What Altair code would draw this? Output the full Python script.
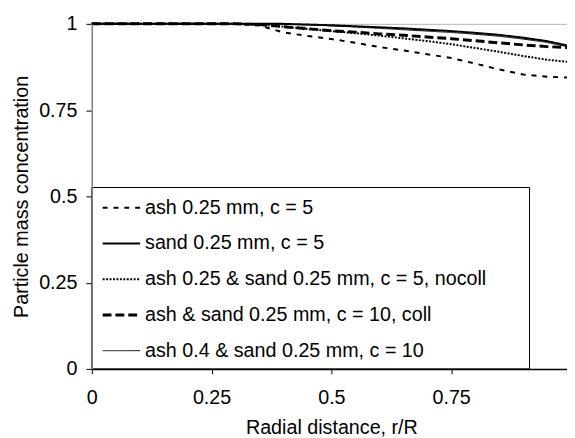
import altair as alt
import pandas as pd

# Radial positions r/R
r = [0, 0.1, 0.2, 0.3, 0.35, 0.4, 0.45, 0.5, 0.55, 0.6, 0.65, 0.7, 0.75, 0.8, 0.85, 0.9, 0.95, 1.0]

ash_c5 = [1, 1, 1, 1, 0.995, 0.975, 0.965, 0.956, 0.945, 0.933, 0.923, 0.912, 0.901, 0.885, 0.868, 0.853, 0.847, 0.844]
sand_c5 = [1, 1, 1, 1, 1, 1, 0.998, 0.996, 0.993, 0.990, 0.987, 0.983, 0.979, 0.974, 0.968, 0.960, 0.950, 0.935]
nocoll_c5 = [1, 1, 1, 1, 0.998, 0.992, 0.985, 0.979, 0.973, 0.966, 0.958, 0.950, 0.941, 0.930, 0.919, 0.907, 0.896, 0.889]
coll_c10 = [1, 1, 1, 1, 0.998, 0.992, 0.986, 0.980, 0.976, 0.971, 0.967, 0.962, 0.957, 0.951, 0.945, 0.939, 0.934, 0.931]
ash04_c10 = [1, 1, 1, 1, 1, 0.999, 0.997, 0.994, 0.991, 0.987, 0.983, 0.979, 0.975, 0.970, 0.964, 0.956, 0.946, 0.932]

names = [
    "ash 0.25 mm, c = 5",
    "sand 0.25 mm, c = 5",
    "ash 0.25 & sand 0.25 mm, c = 5, nocoll",
    "ash & sand 0.25 mm, c = 10, coll",
    "ash 0.4 & sand 0.25 mm, c = 10",
]
series = [ash_c5, sand_c5, nocoll_c5, coll_c10, ash04_c10]

dashes = [[5, 6], [1, 0], [2, 1.5], [9, 4], [1, 0]]
widths = [2, 2, 2, 3, 1]

rows = []
for n, s in zip(names, series):
    for x, y in zip(r, s):
        rows.append({"r": x, "v": y, "series": n})
df = pd.DataFrame(rows)
legend_df = pd.DataFrame({"series": names})

FONT = "Liberation Sans"
FS = 20

dash_enc = alt.StrokeDash("series:N", sort=names,
                          scale=alt.Scale(type="ordinal", domain=names, range=dashes), legend=None)
width_enc = alt.StrokeWidth("series:N", sort=names,
                            scale=alt.Scale(type="ordinal", domain=names, range=widths), legend=None)

box = alt.Chart(pd.DataFrame({"a": [0]})).mark_rect(
    fill="white", stroke="black", strokeWidth=1
).encode(
    x=alt.value(0), x2=alt.value(444), y=alt.value(166), y2=alt.value(350)
)

axis_common = dict(
    grid=False,
    labelFont=FONT, titleFont=FONT,
    labelFontSize=FS, titleFontSize=FS,
    labelColor="black", titleColor="black",
    titleFontWeight="normal",
    zindex=1,
)

lines = alt.Chart(df).mark_line(color="black").encode(
    x=alt.X(
        "r:Q",
        scale=alt.Scale(domain=[0, 1], range=[0, 486], nice=False),
        axis=alt.Axis(
            values=[0, 0.25, 0.5, 0.75, 1],
            format=".2~f",
            title="Radial distance, r/R",
            tickSize=5,
            labelPadding=14,
            titlePadding=11,
            domainColor="black",
            domainWidth=1.5,
            tickColor="black",
            labelFlush=False,
            **axis_common,
        ),
    ),
    y=alt.Y(
        "v:Q",
        scale=alt.Scale(domain=[0, 1], nice=False),
        axis=alt.Axis(
            values=[0, 0.25, 0.5, 0.75, 1],
            format=".2~f",
            title="Particle mass concentration",
            tickSize=6,
            labelPadding=9,
            titlePadding=7,
            domainColor="#808080",
            domainWidth=1.5,
            tickColor="black",
            **axis_common,
        ),
    ),
    strokeDash=dash_enc,
    strokeWidth=width_enc,
)

leg_y = alt.Y("series:O", sort=names,
              scale=alt.Scale(type="point", domain=names, range=[186.5, 331.5], padding=0),
              axis=None)

leg_lines = alt.Chart(legend_df).mark_rule(color="black").encode(
    x=alt.value(11), x2=alt.value(49), y=leg_y,
    strokeDash=dash_enc, strokeWidth=width_enc,
)

leg_text = alt.Chart(legend_df).mark_text(
    align="left", baseline="middle", font=FONT, fontSize=FS, color="black"
).encode(
    x=alt.value(54), y=leg_y, text="series:N",
)

chart = alt.layer(box, lines, leg_lines, leg_text).resolve_scale(
    y="independent"
).properties(
    width=482,
    height=350,
    autosize=alt.AutoSizeParams(type="none"),
    padding={"left": 85, "top": 13, "right": 0, "bottom": 67},
    background="white",
).configure_view(
    stroke="#b4b4b4", strokeWidth=1
)

chart.save("out.html", embed_options={"renderer": "svg", "actions": False})
